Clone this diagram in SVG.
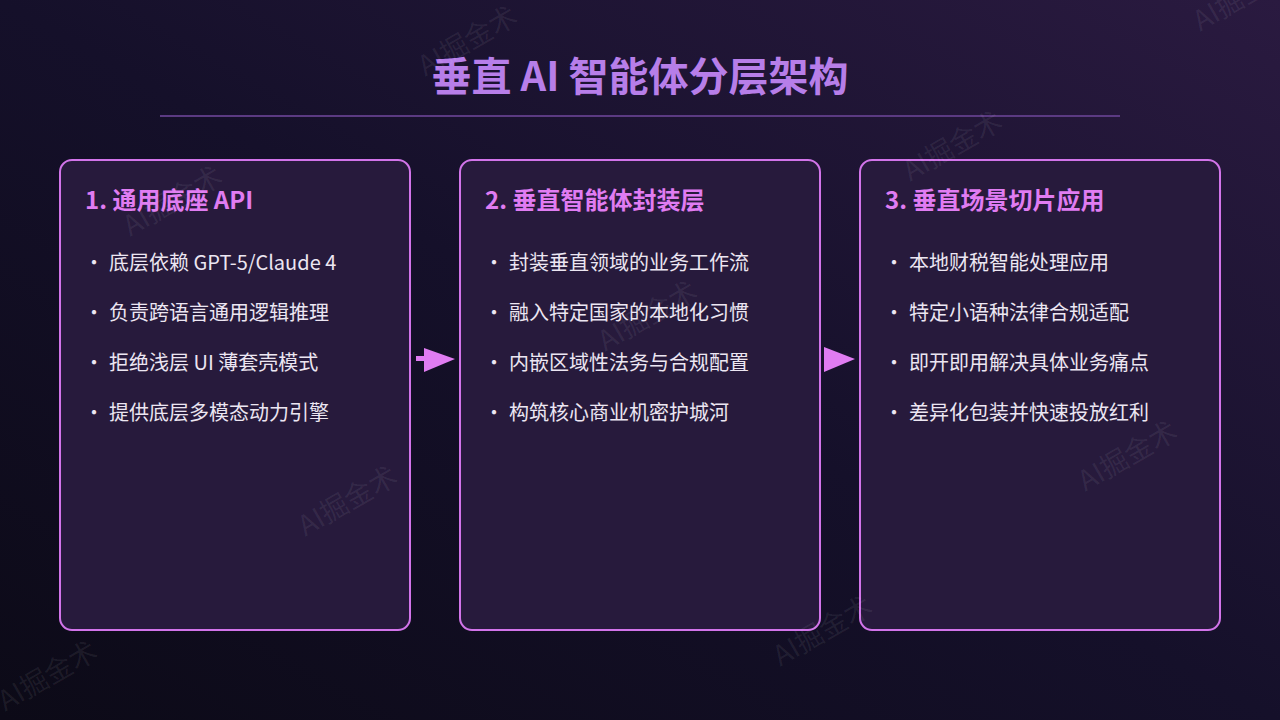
<svg xmlns="http://www.w3.org/2000/svg" width="1280" height="720" viewBox="0 0 1280 720">
<defs>
<linearGradient id="bg" x1="0" y1="1" x2="1" y2="0">
<stop offset="0" stop-color="#0c0a17"/>
<stop offset="0.5" stop-color="#15102a"/>
<stop offset="1" stop-color="#2a1a40"/>
</linearGradient>
<style>
.title{font-family:"Noto Sans CJK SC","Noto Sans",sans-serif;font-weight:700;font-size:40px;fill:#b77ee9;}
.box{fill:#271a3c;stroke:#d274ea;stroke-width:2;}
.hd{font-family:"Noto Sans CJK SC","Noto Sans",sans-serif;font-weight:700;font-size:24px;fill:#e07cf2;}
.it{font-family:"Noto Sans CJK SC","Noto Sans",sans-serif;font-size:20px;fill:#ece6f2;}
.wm{font-family:"Noto Sans CJK SC","Noto Sans",sans-serif;font-size:28px;fill:#ffffff;fill-opacity:0.07;}
.arr{fill:#e07cf2;}
</style>
</defs>
<rect width="1280" height="720" fill="url(#bg)"/>
<g id="title">
<text class="title" x="640" y="91" text-anchor="middle">垂直 AI 智能体分层架构</text>
<rect x="160" y="115" width="960" height="2" fill="#5b3a82"/>
</g>
<g id="node1">
<rect class="box" x="60" y="160" width="350" height="470" rx="12"/>
<text class="hd" x="85" y="209">1. 通用底座 API</text>
<text class="it" x="84" y="270">·</text><text class="it" x="109" y="270">底层依赖 GPT-5/Claude 4</text>
<text class="it" x="84" y="320">·</text><text class="it" x="109" y="320">负责跨语言通用逻辑推理</text>
<text class="it" x="84" y="370">·</text><text class="it" x="109" y="370">拒绝浅层 UI 薄套壳模式</text>
<text class="it" x="84" y="420">·</text><text class="it" x="109" y="420">提供底层多模态动力引擎</text>
</g>
<g id="node2">
<rect class="box" x="460" y="160" width="360" height="470" rx="12"/>
<text class="hd" x="485" y="209">2. 垂直智能体封装层</text>
<text class="it" x="484" y="270">·</text><text class="it" x="509" y="270">封装垂直领域的业务工作流</text>
<text class="it" x="484" y="320">·</text><text class="it" x="509" y="320">融入特定国家的本地化习惯</text>
<text class="it" x="484" y="370">·</text><text class="it" x="509" y="370">内嵌区域性法务与合规配置</text>
<text class="it" x="484" y="420">·</text><text class="it" x="509" y="420">构筑核心商业机密护城河</text>
</g>
<g id="node3">
<rect class="box" x="860" y="160" width="360" height="470" rx="12"/>
<text class="hd" x="885" y="209">3. 垂直场景切片应用</text>
<text class="it" x="884" y="270">·</text><text class="it" x="909" y="270">本地财税智能处理应用</text>
<text class="it" x="884" y="320">·</text><text class="it" x="909" y="320">特定小语种法律合规适配</text>
<text class="it" x="884" y="370">·</text><text class="it" x="909" y="370">即开即用解决具体业务痛点</text>
<text class="it" x="884" y="420">·</text><text class="it" x="909" y="420">差异化包装并快速投放红利</text>
</g>
<g id="connectors">
<rect class="arr" x="416" y="356" width="10" height="5"/>
<polygon class="arr" points="424,348 455,359 424,372"/>
<polygon class="arr" points="824,347 855,359 824,372"/>
</g>
<g id="watermarks">
<text class="wm" x="470" y="50" text-anchor="middle" transform="rotate(-30 470 45)">AI掘金术</text>
<text class="wm" x="955" y="155" text-anchor="middle" transform="rotate(-30 955 150)">AI掘金术</text>
<text class="wm" x="175" y="210" text-anchor="middle" transform="rotate(-30 175 205)">AI掘金术</text>
<text class="wm" x="650" y="325" text-anchor="middle" transform="rotate(-30 650 320)">AI掘金术</text>
<text class="wm" x="350" y="510" text-anchor="middle" transform="rotate(-30 350 505)">AI掘金术</text>
<text class="wm" x="1130" y="465" text-anchor="middle" transform="rotate(-30 1130 460)">AI掘金术</text>
<text class="wm" x="825" y="640" text-anchor="middle" transform="rotate(-30 825 635)">AI掘金术</text>
<text class="wm" x="50" y="685" text-anchor="middle" transform="rotate(-30 50 680)">AI掘金术</text>
<text class="wm" x="1245" y="5" text-anchor="middle" transform="rotate(-30 1245 0)">AI掘金术</text>
</g>
</svg>
